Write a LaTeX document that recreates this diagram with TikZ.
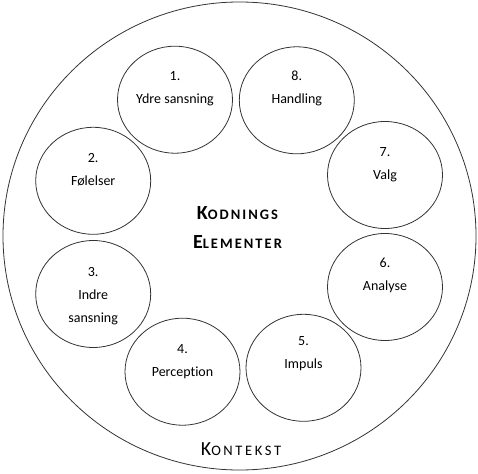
\documentclass[tikz,border=0pt]{standalone}
\usepackage{fontspec}
\setmainfont{Carlito}[Ligatures=NoCommon]
\usetikzlibrary{shapes.geometric}
\newcommand{\kapit}[3]{{\fontsize{20}{20}\selectfont #1}{\fontsize{14.5}{14.5}\selectfont\addfontfeatures{LetterSpace=#3}#2}}
\tikzset{
  ctx/.style     ={draw=black!80, line width=0.8pt, ellipse, inner sep=0pt,
                   minimum width=473pt, minimum height=468pt},
  elem/.style    ={draw=black!80, line width=0.8pt, ellipse, inner sep=0pt,
                   minimum width=115pt, minimum height=107pt},
  elemtxt/.style ={align=center, anchor=base, inner sep=0pt,
                   font=\fontsize{14}{23}\selectfont},
  ttl/.style     ={align=center, anchor=base, inner sep=0pt,
                   font=\bfseries\fontsize{20}{29}\selectfont},
  ctxlbl/.style  ={anchor=base, inner sep=0pt},
}
\begin{document}
\begin{tikzpicture}[x=1pt, y=-1pt]
\useasboundingbox (0,0) rectangle (478,473);

% ---- context ----
\node[ctx] (kontekst) at (239.5,236) {};
\node[ctxlbl] (kontekstlbl) at (241,455.5) {\kapit{K}{ONTEKST}{18}};

% ---- elements (last line on the base) ----
\foreach \i/\x/\y/\b/\t in {
    1/175/99.7/103.8/Ydre sansning,
    2/93.2/180.8/185.5/Følelser,
    3/93.2/294/322.5/Indre\\sansning,
    4/182.5/371.7/376.5/Perception,
    5/303.5/367.8/368/Impuls,
    6/385/287/290.5/Analyse,
    7/385/175/179/Valg,
    8/296.8/100.3/103.5/Handling} {
  \node[elem] (e\i) at (\x,\y) {};
  \node[elemtxt] (t\i) at (\x,\b) {\i.\\\t};
}

% ---- centre ----
\node[ttl] (kodning) at (237.5,248) {\kapit{K}{ODNINGS}{14}\\\kapit{E}{LEMENTER}{14}};

\end{tikzpicture}
\end{document}
